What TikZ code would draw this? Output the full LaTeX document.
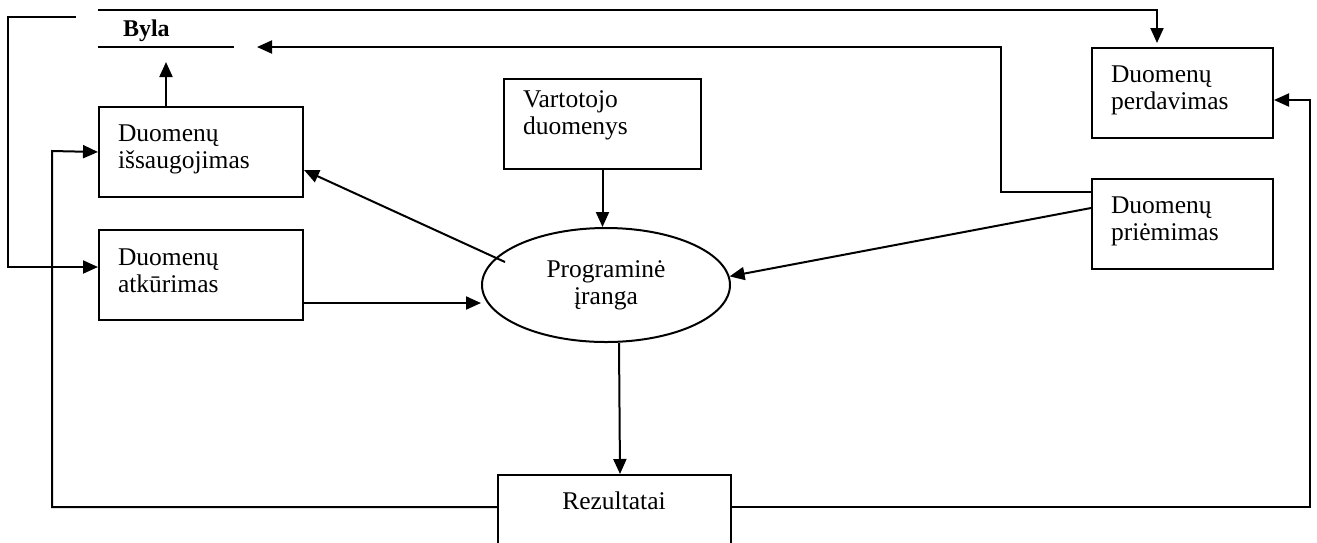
\documentclass[tikz,border=0pt]{standalone}
\usepackage{fontspec}
\setmainfont{Liberation Serif}
\usetikzlibrary{arrows.meta,shapes.geometric,calc}
\begin{document}
\begin{tikzpicture}[x=1pt,y=-1pt,
  line width=2pt,
  box/.style={draw,line width=2pt,rectangle,inner sep=0pt,anchor=north west},
  txt/.style={font=\fontsize{25.5}{27}\selectfont,align=left,inner sep=0pt,anchor=base west},
  arr/.style={-{Triangle[length=15pt,width=13pt]}},
]
\useasboundingbox (0,0) rectangle (1317,542);

% boxes
\node[box,minimum width=204pt,minimum height=90pt] (sav) at (98,106) {};
\node[box,minimum width=204pt,minimum height=90pt] (atk) at (98,229) {};
\node[box,minimum width=197pt,minimum height=90pt] (vart) at (503,78) {};
\node[box,minimum width=181pt,minimum height=90pt] (perd) at (1091,47) {};
\node[box,minimum width=181pt,minimum height=90pt] (prim) at (1091,178) {};
\node[box,minimum width=233pt,minimum height=80pt] (rez) at (497,474) {};
\node[draw,ellipse,line width=2pt,minimum width=248pt,minimum height=114pt,inner sep=0pt] (prog) at (606,285) {};

% texts (base = baseline of the last line)
\node[txt] (savt) at (117,168) {Duomenų\\išsaugojimas};
\node[txt] (atkt) at (117,292) {Duomenų\\atkūrimas};
\node[txt] (vartt) at (522,134.5) {Vartotojo\\duomenys};
\node[txt] (perdt) at (1110,109.5) {Duomenų\\perdavimas};
\node[txt] (primt) at (1110,240.5) {Duomenų\\priėmimas};
\node[txt,align=center,anchor=base] (progt) at (606,304.5) {Programinė\\įranga};
\node[txt,anchor=base] (rezt) at (614,509) {Rezultatai};
\node[font=\fontsize{24}{27}\selectfont\bfseries,anchor=base west,inner sep=0pt] (byla) at (122,36) {Byla};

% Byla data store
\coordinate (bylaTL) at (98,10);
\coordinate (bylaBL) at (98,47);
\coordinate (bylaBR) at (234,47);
\coordinate (bylaIn) at (257,47);
\coordinate (bylaL) at (76,17);
\coordinate (bylaUp) at (166,62);
\coordinate (progIn) at (505,262);
\draw (bylaBL) -- (bylaBR);

% connectors
\draw[arr,shorten >=4pt] (bylaTL) -| ($(perd.north west)+(66,0)$);
\draw[arr] ($(prim.north west)+(0,14)$) -- (1001,192) -- (1001,47) -- (bylaIn);
\draw[arr] (bylaL) -- (8,17) -- (8,267) -- ($(atk.north west)+(0,38)$);
\draw[arr] ($(sav.north west)+(68,0)$) -- (bylaUp);
\draw[arr] ($(rez.north west)+(0,33)$) -| (52,151) -- (sav.west);
\draw[arr] ($(rez.north east)+(0,33)$) -| (1310,100) -- ($(perd.north east)+(0,53)$);
\draw[arr] (vart.south) -- (vart.south |- prog.north);
\draw[arr] ($(prog.south)+(13,0)$) -- ($(rez.north)+(5.5,0)$);
\draw[arr] ($(atk.north east)+(0,74)$) -- ($(prog.west)+(0,18)$);
\draw[arr] (progIn) -- ($(sav.north east)+(0,64)$);
\draw[arr] ($(prim.north west)+(0,30)$) -- (prog.4);
\end{tikzpicture}
\end{document}
